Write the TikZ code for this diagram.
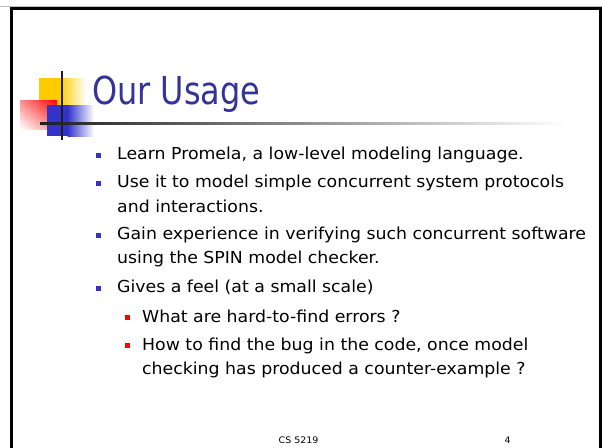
\documentclass[tikz,border=0pt]{standalone}
\usepackage{fontspec}
\setmainfont{DejaVu Sans}[FakeStretch=1.05]
\newfontfamily\titlefont{DejaVu Sans}[FakeStretch=0.83]
\usetikzlibrary{positioning, shadings}
\definecolor{slideblue}{RGB}{51, 51, 153}
\definecolor{logoblue}{RGB}{51, 51, 204}
\definecolor{logoyellow}{RGB}{255, 204, 0}
\definecolor{logored}{RGB}{255, 0, 0}
\definecolor{framegrey}{RGB}{190, 190, 190}
\tikzstyle{point} = [
  anchor=base west,
  inner sep=0pt,
  text width=480pt,
  align=left,
  font=\fontsize{16.5}{24.5}\selectfont,
]
\tikzstyle{bluesq} = [
  rectangle,
  fill=logoblue,
  inner sep=0pt,
  minimum size=5pt,
]
\tikzstyle{redsq} = [
  bluesq,
  fill=logored,
]

\begin{document}
\begin{tikzpicture}[x=1pt, y=-1pt]
            \useasboundingbox (0,0) rectangle (602,447);

            % Frame
            \draw[framegrey, line width=1.5pt] (0,6.5) -- (602,6.5);
            \draw[line width=2.5pt] (11.5,460) -- (11.5,8.5) -- (600.5,8.5) -- (600.5,460);

            % Logo
            \fill[logoyellow] (39,78) rectangle (60,105);
            \shade[left color=logoyellow, right color=white] (59.5,78) rectangle (86,105);
            \shade[upper right=logored, upper left=logored!45,
              lower right=logored!45, lower left=white] (20,100) rectangle (57,129);
            \fill[logoblue] (46.5,105) rectangle (68,136);
            \shade[left color=logoblue, right color=white] (67.5,105) rectangle (94,136);
            \draw[black!88, line width=2.3pt] (62,71) -- (62,140);
            \shade[left color=black!88, right color=white] (40,122) rectangle (566,124.3);

            % Title
            \node[anchor=base west, inner sep=0pt, text=slideblue,
              font=\titlefont\fontsize{38.5}{40}\selectfont] (title) at (92,104.3) {Our Usage};

            % Points
            \node[point] (p1) at (117,159) {Learn Promela, a low-level modeling language.};
            \node[point] (p2) at (117,187.5) {Use it to model simple concurrent system protocols\\and interactions.};
            \node[point] (p3) at (117,239) {Gain experience in verifying such concurrent software\\using the SPIN model checker.};
            \node[point] (p4) at (117,292) {Gives a feel (at a small scale)};
            \node[point] (p5) at (142,322) {What are hard-to-find errors ?};
            \node[point] (p6) at (142,350) {How to find the bug in the code, once model\\checking has produced a counter-example ?};

            % Bullets
            \foreach \p in {p1, p2, p3, p4}
              \node[bluesq] (b\p) at ([xshift=-18.5pt, yshift=4pt] \p.base west) {};
            \foreach \p in {p5, p6}
              \node[redsq] (b\p) at ([xshift=-14.5pt, yshift=5pt] \p.base west) {};

            % Footer
            \node[anchor=base west, inner sep=0pt, font=\fontsize{9}{10}\selectfont] (course) at (278.5,443) {CS 5219};
            \node[anchor=base west, inner sep=0pt, font=\fontsize{9}{10}\selectfont] (page) at (504.5,443) {4};
          \end{tikzpicture}
\end{document}
